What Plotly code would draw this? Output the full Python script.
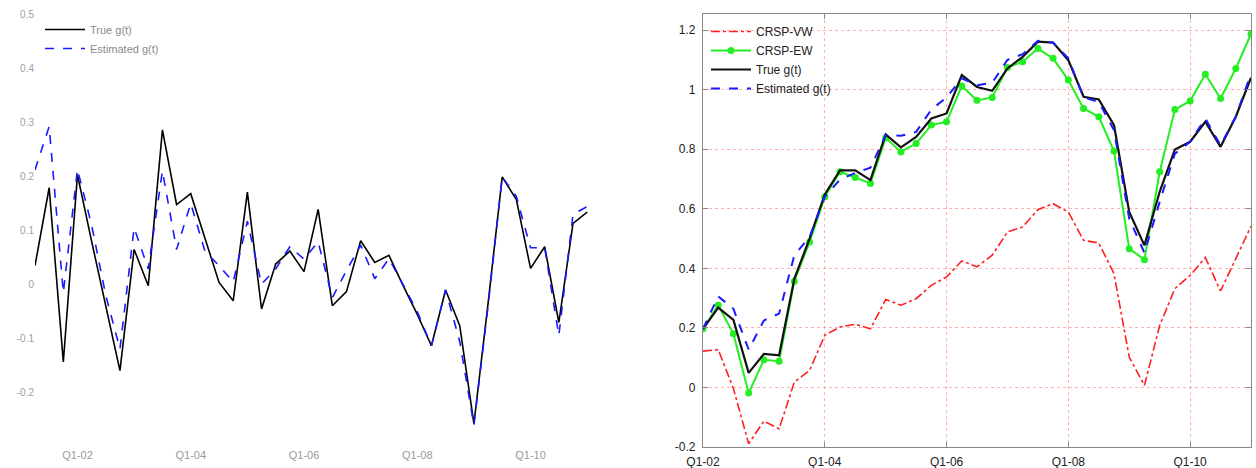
import plotly.graph_objects as go

# ---------------- Left panel data (Q2-01 .. Q1-11) ----------------
left_quarters = [
    "Q2-01", "Q3-01", "Q4-01",
    "Q1-02", "Q2-02", "Q3-02", "Q4-02", "Q1-03", "Q2-03", "Q3-03", "Q4-03",
    "Q1-04", "Q2-04", "Q3-04", "Q4-04", "Q1-05", "Q2-05", "Q3-05", "Q4-05",
    "Q1-06", "Q2-06", "Q3-06", "Q4-06", "Q1-07", "Q2-07", "Q3-07", "Q4-07",
    "Q1-08", "Q2-08", "Q3-08", "Q4-08", "Q1-09", "Q2-09", "Q3-09", "Q4-09",
    "Q1-10", "Q2-10", "Q3-10", "Q4-10", "Q1-11",
]
left_true = [
    0.035, 0.179, -0.143, 0.203, 0.08, -0.04, -0.159, 0.065, -0.002, 0.286,
    0.148, 0.168, 0.085, 0.004, -0.030, 0.171, -0.045, 0.038, 0.062, 0.024,
    0.139, -0.039, -0.013, 0.081, 0.041, 0.054, -0.002, -0.055, -0.113, -0.010,
    -0.076, -0.257, -0.035, 0.199, 0.157, 0.030, 0.070, -0.070, 0.113, 0.134,
]
left_est = [
    0.212, 0.292, -0.015, 0.213, 0.11, -0.02, -0.119, 0.105, 0.029, 0.210,
    0.065, 0.150, 0.062, 0.035, 0.005, 0.117, 0.001, 0.029, 0.070, 0.047,
    0.079, -0.024, 0.026, 0.073, 0.011, 0.048, 0.000, -0.050, -0.113, -0.010,
    -0.105, -0.260, -0.040, 0.199, 0.163, 0.068, 0.068, -0.094, 0.130, 0.144,
]
left_tick_quarters = ["Q1-02", "Q1-04", "Q1-06", "Q1-08", "Q1-10"]
left_tick_labels = ["Q1-02", "Q1-04", "Q1-06", "Q1-08", "Q1-10"]
left_y_ticks = [-0.3, -0.2, -0.1, 0, 0.1, 0.2, 0.3, 0.4, 0.5]
left_y_labels = ["", "-0.2", "-0.1", "0", "0.1", "0.2", "0.3", "0.4", "0.5"]

# ---------------- Right panel data (Q1-02 .. Q1-11) ----------------
right_quarters = left_quarters[3:]
crsp_vw = [
    0.122, 0.127, -0.004, -0.189, -0.113, -0.139, 0.018, 0.057, 0.175, 0.203,
    0.212, 0.197, 0.295, 0.276, 0.298, 0.343, 0.371, 0.425, 0.405, 0.444,
    0.522, 0.539, 0.597, 0.617, 0.589, 0.494, 0.485, 0.382, 0.102, 0.007,
    0.208, 0.332, 0.376, 0.436, 0.324, 0.434, 0.541,
]
crsp_ew = [
    0.197, 0.276, 0.180, -0.019, 0.093, 0.088, 0.357, 0.488, 0.640, 0.724,
    0.705, 0.685, 0.838, 0.791, 0.819, 0.881, 0.892, 1.012, 0.964, 0.974,
    1.074, 1.094, 1.138, 1.105, 1.032, 0.937, 0.909, 0.794, 0.466, 0.429,
    0.724, 0.933, 0.962, 1.052, 0.970, 1.071, 1.187,
]
true_g = [
    0.197, 0.268, 0.227, 0.049, 0.113, 0.108, 0.365, 0.500, 0.648, 0.729,
    0.729, 0.696, 0.850, 0.806, 0.841, 0.903, 0.920, 1.049, 1.009, 0.996,
    1.071, 1.110, 1.161, 1.158, 1.099, 0.976, 0.967, 0.881, 0.589, 0.477,
    0.657, 0.799, 0.825, 0.892, 0.808, 0.909, 1.040,
]
est_g = [
    0.197, 0.306, 0.264, 0.127, 0.225, 0.248, 0.444, 0.505, 0.640, 0.698,
    0.720, 0.738, 0.847, 0.845, 0.858, 0.933, 0.974, 1.038, 1.015, 1.023,
    1.100, 1.119, 1.164, 1.158, 1.105, 0.974, 0.959, 0.864, 0.567, 0.452,
    0.623, 0.785, 0.825, 0.903, 0.813, 0.909, 1.054,
]
right_tick_quarters = ["Q1-02", "Q1-04", "Q1-06", "Q1-08", "Q1-10"]
right_tick_labels = ["Q1-02", "Q1-04", "Q1-06", "Q1-08", "Q1-10"]
right_y_ticks = [-0.2, 0, 0.2, 0.4, 0.6, 0.8, 1, 1.2]
right_y_labels = ["-0.2", "0", "0.2", "0.4", "0.6", "0.8", "1", "1.2"]

fig = go.Figure()

# Left panel
fig.add_trace(go.Scatter(x=left_quarters, y=left_true, name="True g(t)", mode="lines",
                         line=dict(color="black", width=1.6), xaxis="x", yaxis="y",
                         legend="legend"))
fig.add_trace(go.Scatter(x=left_quarters, y=left_est, name="Estimated g(t)", mode="lines",
                         line=dict(color="#1a1aff", width=1.6, dash="dash"), xaxis="x", yaxis="y",
                         legend="legend"))

# Right panel
fig.add_trace(go.Scatter(x=right_quarters, y=crsp_vw, name="CRSP-VW", mode="lines",
                         line=dict(color="#ff2020", width=1.6, dash="dashdot"), xaxis="x2", yaxis="y2",
                         legend="legend2"))
fig.add_trace(go.Scatter(x=right_quarters, y=crsp_ew, name="CRSP-EW", mode="lines+markers",
                         line=dict(color="#22ee22", width=2), marker=dict(color="#22ee22", size=7),
                         xaxis="x2", yaxis="y2", legend="legend2"))
fig.add_trace(go.Scatter(x=right_quarters, y=true_g, name="True g(t)", mode="lines",
                         line=dict(color="#111111", width=2.2), xaxis="x2", yaxis="y2",
                         legend="legend2"))
fig.add_trace(go.Scatter(x=right_quarters, y=est_g, name="Estimated g(t)", mode="lines",
                         line=dict(color="#1a1aff", width=2, dash="dash"), xaxis="x2", yaxis="y2",
                         legend="legend2"))

W, H = 1256, 468
ydom = [1 - 447 / H, 1 - 14 / H]

fig.update_layout(
    width=W, height=H,
    margin=dict(l=0, r=0, t=0, b=0, autoexpand=False),
    paper_bgcolor="white", plot_bgcolor="white",
    font=dict(family="Arial, Liberation Sans, sans-serif", size=12, color="#333"),
    showlegend=True,
    xaxis=dict(domain=[35 / W, 590 / W], type="category", categoryorder="array",
               categoryarray=left_quarters, range=[0, 39.2], automargin=False,
               tickmode="array", tickvals=left_tick_quarters, ticktext=left_tick_labels,
               showgrid=False, zeroline=False, showline=False,
               ticks="", tickfont=dict(size=11, color="#9a9a9a"), anchor="y"),
    yaxis=dict(domain=ydom, range=[-0.3, 0.5], tickmode="array", automargin=False,
               tickvals=left_y_ticks, ticktext=left_y_labels,
               showgrid=False, zeroline=False, showline=False,
               ticks="", tickfont=dict(size=10, color="#a0a0a0"), anchor="x"),
    xaxis2=dict(domain=[703 / W, 1251 / W], type="category", categoryorder="array",
                categoryarray=right_quarters, range=[0, 36], automargin=False,
                tickmode="array", tickvals=right_tick_quarters, ticktext=right_tick_labels,
                showgrid=True, gridcolor="rgba(255,80,80,0.45)", griddash="dot", gridwidth=1,
                zeroline=False, showline=True, linecolor="#888", linewidth=1.2, mirror="ticks",
                ticks="inside", ticklen=5, tickcolor="#888", ticklabelstandoff=3,
                tickfont=dict(size=12, color="#222"), anchor="y2"),
    yaxis2=dict(domain=ydom, range=[-0.2, 1.254], tickmode="array", automargin=False,
                tickvals=right_y_ticks, ticktext=right_y_labels,
                showgrid=True, gridcolor="rgba(255,80,80,0.45)", griddash="dot", gridwidth=1,
                zeroline=False, showline=True, linecolor="#888", linewidth=1.2, mirror="ticks",
                ticks="inside", ticklen=5, tickcolor="#888", ticklabelstandoff=4,
                tickfont=dict(size=12, color="#222"), anchor="x2"),
    legend=dict(x=40 / W, y=1 - 15 / H, xanchor="left", yanchor="top",
                bgcolor="rgba(255,255,255,0)", font=dict(size=11, color="#8a8a8a"),
                tracegroupgap=0, itemwidth=40),
    legend2=dict(x=706 / W, y=1 - 17 / H, xanchor="left", yanchor="top",
                 bgcolor="rgba(255,255,255,0)", font=dict(size=12, color="#222"),
                 tracegroupgap=0, itemwidth=40),
)

fig.write_html("out.html", config={"displayModeBar": False},
               post_script="document.body.style.margin='0';document.body.style.overflow='hidden';")
